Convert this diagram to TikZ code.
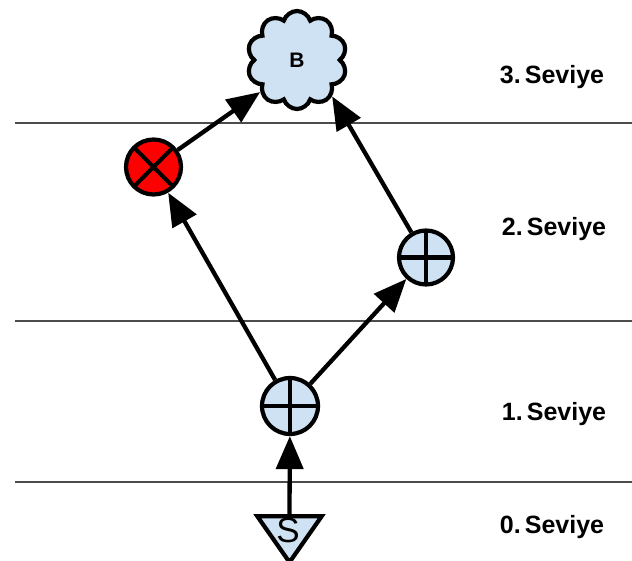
\documentclass[tikz,border=0pt]{standalone}
\usepackage{fontspec}
\setmainfont{Liberation Sans}
\usetikzlibrary{shapes.symbols,shapes.geometric,arrows.meta}
\definecolor{lblue}{HTML}{CFE2F3}
\definecolor{lred}{HTML}{FF0000}
\tikzset{
  level/.style={draw=black!70, line width=1.6pt},
  lab/.style={font=\fontsize{25}{29}\selectfont\bfseries},
  opplus/.style={circle, draw=black, fill=lblue, line width=4.2pt, minimum size=#1, inner sep=0pt,
    path picture={\draw[line width=4.2pt] (path picture bounding box.north) -- (path picture bounding box.south)
      (path picture bounding box.west) -- (path picture bounding box.east);}},
  opcross/.style={circle, draw=black, fill=lred, line width=4.2pt, minimum size=#1, inner sep=0pt,
    path picture={\draw[line width=4.2pt] (path picture bounding box.north west) -- (path picture bounding box.south east)
      (path picture bounding box.south west) -- (path picture bounding box.north east);}},
  arr/.style={line width=4.3pt, -{Triangle[length=33pt,width=27pt]}},
}
\begin{document}
\begin{tikzpicture}[x=1pt,y=-1pt]
\useasboundingbox (0,0) rectangle (632,560);
% level lines
\coordinate (l1a) at (15,123); \coordinate (l1b) at (632,123);
\coordinate (l2a) at (15,321); \coordinate (l2b) at (632,321);
\coordinate (l3a) at (15,482); \coordinate (l3b) at (632,482);
\draw[level] (l1a) -- (l1b);
\draw[level] (l2a) -- (l2b);
\draw[level] (l3a) -- (l3b);
% labels
\node[lab] (t3) at (552,77) {3.\,Seviye};
\node[lab] (t2) at (554,229) {2.\,Seviye};
\node[lab] (t1) at (554,414) {1.\,Seviye};
\node[lab] (t0) at (552,527) {0.\,Seviye};
% cloud
\node[cloud, cloud puffs=10, cloud puff arc=145, aspect=1, draw=black, fill=lblue, line width=4.2pt,
  minimum width=100pt, minimum height=98pt, inner sep=0pt, font=\fontsize{21}{24}\selectfont\bfseries] (B) at (297,60) {B};
% operators
\node[opcross=55pt] (X) at (153.5,167) {};
\node[opplus=54pt] (R) at (426,257.5) {};
\node[opplus=56pt] (M) at (290,406) {};
% source triangle
\node[isosceles triangle, isosceles triangle apex angle=70, shape border rotate=-90, draw=black, fill=lblue,
  line width=4.2pt, inner sep=0pt, minimum height=46pt, minimum width=62pt] (S) at (289.5,533) {};
\node[font=\fontsize{35}{38}\selectfont] (St) at (288,530) {S};
% arrows
\draw[arr] (S.north) -- (M);
\draw[arr] (M) -- (X);
\draw[arr] (M) -- (R);
\draw[arr] (R) -- (B.314);
\draw[arr] (X) -- (B.221);
\end{tikzpicture}
\end{document}
